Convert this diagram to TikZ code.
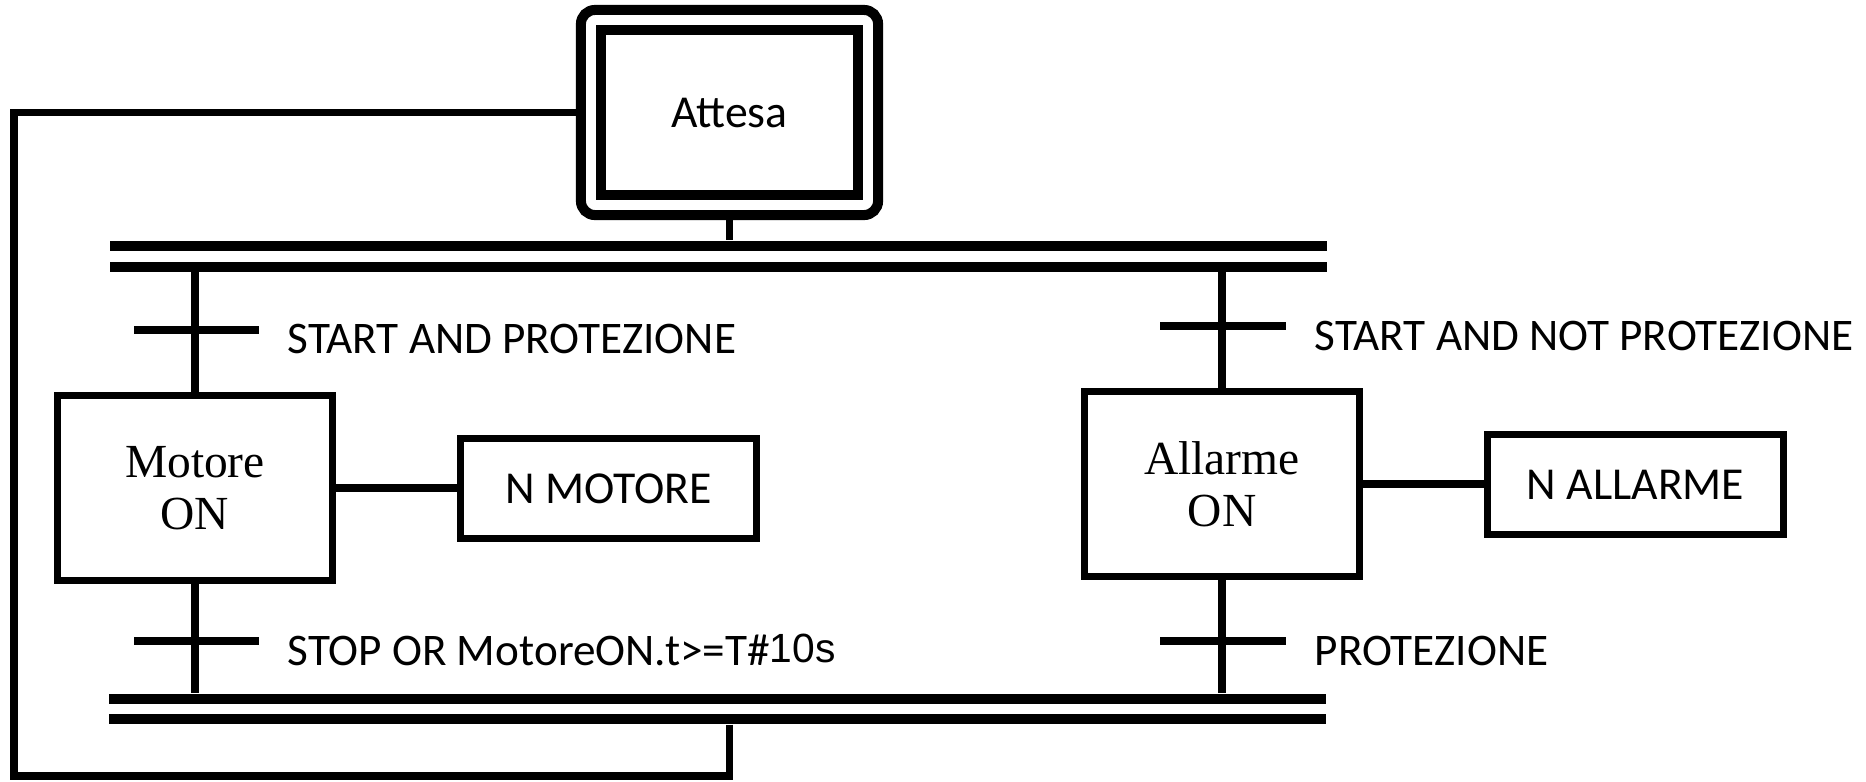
\documentclass[tikz,border=0pt]{standalone}
\usepackage{fontspec}
\setmainfont{Carlito}
\newfontfamily\stepfont{Liberation Serif}
\newfontfamily\arialfont{Liberation Sans}
\usetikzlibrary{positioning,calc}
\tikzset{
  % steps and actions
  stepbox/.style={draw, line width=2pt, minimum width=2.75cm, minimum height=1.84cm,
    inner sep=0pt, align=center, font=\stepfont\fontsize{13.5pt}{14.8pt}\selectfont},
  initbox/.style={draw, line width=2.85pt, minimum width=2.57cm, minimum height=1.65cm,
    inner sep=0pt, font=\fontsize{13pt}{14pt}\selectfont},
  initouter/.style={draw, line width=2.85pt, rounded corners=4pt, minimum width=2.97cm,
    minimum height=2.05cm, inner sep=0pt},
  actbox/.style={draw, line width=2pt, minimum width=2.95cm, minimum height=1.0cm,
    inner sep=0pt, font=\fontsize{13pt}{14pt}\selectfont},
  % transitions and parallel bars
  trans/.style={fill, minimum width=1.25cm, minimum height=0.08cm, inner sep=0pt},
  parbar/.style={fill, minimum width=12.17cm, minimum height=0.1cm, inner sep=0pt},
  link/.style={line width=2pt},
  cond/.style={anchor=base west, inner sep=0pt, font=\fontsize{12.85pt}{14pt}\selectfont},
}
\begin{document}
\begin{tikzpicture}[x=0.01cm,y=-0.01cm]
  \useasboundingbox (0,0) rectangle (1866,781);
  % initial step
  \node[initouter] (attesaout) at (729.5,112.5) {};
  \node[initbox] (attesa) at (729.5,112.5) {Attesa};
  % parallel bars
  \node[parbar] (parA) at (718.5,246) {};
  \node[parbar] (parB) at (718.5,266.5) {};
  \node[parbar] (parC) at (717.5,699) {};
  \node[parbar] (parD) at (717.5,719) {};
  % steps
  \node[stepbox] (motore) at (195,488) {Motore\\ON};
  \node[stepbox] (allarme) at (1222,484) {Allarme\\ON};
  \node[actbox] (nmotore) at (608.5,488.5) {N MOTORE};
  \node[actbox] (nallarme) at (1635.5,484.5) {N ALLARME};
  % branch lines
  \draw[link] (attesaout.south) -- (parA.north -| attesaout.south);
  \draw[link] (parB.south -| motore.north) -- (motore.north);
  \draw[link] (motore.south) -- (parC.north -| motore.south);
  \draw[link] (parB.south -| allarme.north) -- (allarme.north);
  \draw[link] (allarme.south) -- (parC.north -| allarme.south);
  \draw[link] (motore.east) -- (nmotore.west |- motore.east);
  \draw[link] (allarme.east) -- (nallarme.west |- allarme.east);
  % transitions
  \node[trans] (tA) at (196.5,330) {};
  \node[trans] (tB) at (1223,326) {};
  \node[trans] (tC) at (196.5,641) {};
  \node[trans] (tD) at (1223,641) {};
  \node[cond] (cA) at (287,353) {START AND PROTEZIONE};
  \node[cond] (cB) at (1314,350) {START AND NOT PROTEZIONE};
  \node[cond] (cC) at (287,665) {STOP OR MotoreON.t>=T\#\raisebox{0.8pt}{\arialfont\fontsize{11.6pt}{14pt}\selectfont 10s}};
  \node[cond] (cD) at (1314,665) {PROTEZIONE};
  % loop back to the initial step
  \coordinate (loopA) at (14,112.5);
  \coordinate (loopB) at (14,776);
  \draw[link] (parD.south -| attesa.south) -- (attesa.south |- loopB) -- (loopB)
    -- (loopA) -- (attesaout.west);
\end{tikzpicture}
\end{document}
